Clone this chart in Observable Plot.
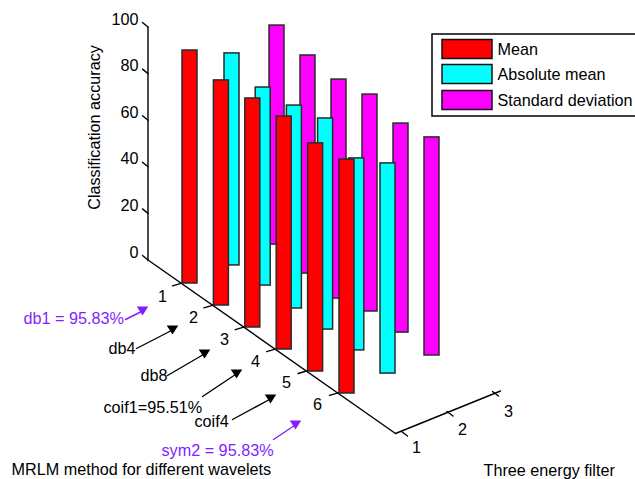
<!DOCTYPE html>
<html>
<head>
<meta charset="utf-8">
<style>
html,body{margin:0;padding:0;background:#fff;overflow:hidden}
svg{display:block}
</style>
<script src="https://cdn.jsdelivr.net/npm/d3@7"></script>
<script src="https://cdn.jsdelivr.net/npm/@observablehq/plot@0.6"></script>
</head>
<body>
<div id="chart"></div>
<script>
const wavelets = [1, 2, 3, 4, 5, 6];
const filters = [1, 2, 3];
const accuracyTicks = [0, 20, 40, 60, 80, 100];
const seriesNames = ["Mean", "Absolute mean", "Standard deviation"];
const seriesColors = ["#ff0000", "#00ffff", "#ff00ff"];

const meanTop = [100, 96.6, 98.3, 100, 97.9, 100.4];
const meanBase = [0, 0, 0, 0, 0, 0];
const absTop = [90.6, 85.4, 87.1, 91, 83.3, 90.6];
const absBase = [-0.4, 0.4, 0, 0.4, 0.9, 0.4];
const stdTop = [94.4, 91, 90.1, 93.1, 90.1, 93.6];
const stdBase = [0.4, -2.6, -3.9, 0, 0.4, 0];

const notes = ["db1 = 95.83%", "db4", "db8", "coif1=95.51%", "coif4", "sym2 = 95.83%"];
const purple = "#7f1fff";
const font = "Liberation Sans, Arimo, Helvetica, Arial, sans-serif";
const fs = 16.2;

// oblique projection of (wavelet, filter, accuracy) on to the page
const filterShift = [0, 42, 87];
const projX = (w, f) => 189.5 + 31.4 * (w - 1) + filterShift[f - 1] - 0.2 * (w - 1) * (f - 1);
const projY = (w, f, z) => 283 + 22 * (w - 1) - 19 * (f - 1) - 2.33 * z;

const barHalf = 7.5;
const bars = (tops, bases, f, color) => wavelets.map((w, i) => ({
  x1: projX(w, f) - barHalf, x2: projX(w, f) + barHalf,
  y1: projY(w, f, bases[i]), y2: projY(w, f, tops[i]), color
}));

const barOpts = {x1: "x1", x2: "x2", y1: "y1", y2: "y2", fill: "color", stroke: "#2a2a2a", strokeWidth: 1.5};

// axes
const zAxisX = 147.5, zY = z => 259.5 - 2.33 * z;
const wAxisP = w => ({x: 182 + 31.4 * (w - 1), y: 284.4 + 21.9 * (w - 1)});
const corner = {x: 395, y: 433};
const fAxisP = f => ({x: 402 + 45.5 * (f - 1), y: 432 - 20 * (f - 1)});

const segs = [
  [{x: zAxisX, y: zY(100)}, {x: zAxisX, y: zY(0) }],
  [{x: zAxisX, y: zY(0)}, corner],
  [corner, {x: 500, y: 390.5}],
  ...accuracyTicks.map(t => [{x: zAxisX, y: zY(t)}, {x: zAxisX - 5.5, y: zY(t) - 4.5}]),
  ...wavelets.map(w => { const p = wAxisP(w); return [{x: p.x - 1.5, y: p.y - 1.5}, {x: p.x - 10, y: p.y + 1}]; }),
  ...filters.map(f => { const p = fAxisP(f); return [{x: p.x - 1, y: p.y - 1}, {x: p.x + 5, y: p.y + 3.5}]; })
];
const segRows = segs.flatMap((s, k) => s.map(p => ({...p, k})));

// annotations
const annPos = [
  {tx: 23, ty: 318, from: [125, 319], to: [141, 311]},
  {tx: 108, ty: 348, from: [136, 348], to: [171, 330]},
  {tx: 140, ty: 375, from: [167, 375], to: [203, 354]},
  {tx: 103, ty: 407, from: [202, 396], to: [235, 374]},
  {tx: 194, ty: 421, from: [232, 419], to: [269, 399]},
  {tx: 161, ty: 450, from: [273, 439], to: [294, 425]}
];
const annColor = i => (i === 0 || i === 5) ? purple : "#000";
const annText = notes.map((t, i) => ({t, x: annPos[i].tx, y: annPos[i].ty, c: annColor(i)}));
const annLines = notes.flatMap((t, i) => [
  {x: annPos[i].from[0], y: annPos[i].from[1], k: i, c: annColor(i)},
  {x: annPos[i].to[0], y: annPos[i].to[1], k: i, c: annColor(i)}
]);
const annHeads = notes.map((t, i) => ({x: annPos[i].to[0] + 1, y: annPos[i].to[1] - 0.5, c: annColor(i)}));
const downTriangle = {draw(ctx, size) {
  const r = Math.sqrt(size / Math.PI);
  ctx.moveTo(-r * 1.25, -r); ctx.lineTo(r * 1.25, -r); ctx.lineTo(0, r); ctx.closePath();
}};

// tick label rows
const zLabels = accuracyTicks.map(t => ({t: String(t), x: 138, y: zY(t) - 7.5}));
const wLabels = wavelets.map(w => ({t: String(w), x: 162 + 31 * (w - 1), y: 296 + 21.7 * (w - 1)}));
const fLabels = filters.map(f => ({t: String(f), x: 416 + 46 * (f - 1), y: 447 - 18 * (f - 1)}));
const allTick = [...wLabels, ...fLabels];

// legend
const legendY = [49, 74, 100];
const legendRows = seriesNames.map((n, i) => ({n, c: seriesColors[i], y: legendY[i]}));

const plot = Plot.plot({
  width: 635, height: 479,
  margin: 0,
  style: {background: "#fff", fontFamily: font},
  x: {domain: [0, 635], range: [0, 635], axis: null},
  y: {domain: [0, 479], range: [0, 479], axis: null},
  marks: [
    Plot.rectY(bars(stdTop, stdBase, 3, seriesColors[2]), barOpts),
    Plot.rectY(bars(absTop, absBase, 2, seriesColors[1]), barOpts),
    Plot.rectY(bars(meanTop, meanBase, 1, seriesColors[0]), barOpts),
    Plot.line(segRows, {x: "x", y: "y", z: "k", stroke: "#000", strokeWidth: 1.4}),
    Plot.text(zLabels, {x: "x", y: "y", text: "t", textAnchor: "end", fontSize: fs, fill: "#000"}),
    Plot.text(allTick, {x: "x", y: "y", text: "t", fontSize: fs, fill: "#000"}),
    Plot.text(["Classification accuracy"], {x: () => 94, y: () => 127, text: d => d, rotate: -90, fontSize: fs, fill: "#000"}),
    Plot.text(["MRLM method for different wavelets"], {x: () => 11, y: () => 469, text: d => d, textAnchor: "start", fontSize: fs, fill: "#000"}),
    Plot.text(["Three energy filter"], {x: () => 483, y: () => 470, text: d => d, textAnchor: "start", fontSize: fs, fill: "#000"}),
    Plot.line(annLines, {x: "x", y: "y", z: "k", stroke: "c", strokeWidth: 1.4}),
    Plot.dot(annHeads, {x: "x", y: "y", fill: "c", symbol: () => downTriangle, r: 4.6, stroke: "none"}),
    Plot.text(annText, {x: "x", y: "y", text: "t", fill: "c", textAnchor: "start", fontSize: fs}),
    Plot.rect([0], {x1: () => 432, x2: () => 645, y1: () => 34, y2: () => 116, fill: "#fff", stroke: "#000", strokeWidth: 1.5}),
    Plot.rect(legendRows, {x1: () => 442, x2: () => 492, y1: d => d.y - 9.5, y2: d => d.y + 9.5, fill: "c", stroke: "#111", strokeWidth: 1.5}),
    Plot.text(legendRows, {x: () => 497, y: "y", text: "n", textAnchor: "start", fontSize: fs, fill: "#000"})
  ]
});
document.getElementById("chart").append(plot);
</script>
</body>
</html>
